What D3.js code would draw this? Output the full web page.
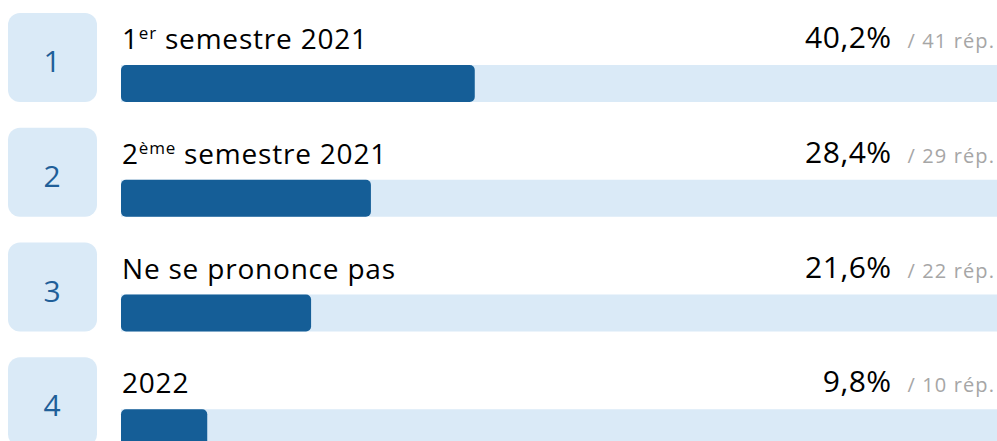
<!DOCTYPE html>
<html>
<head>
<meta charset="utf-8">
<script src="https://cdn.jsdelivr.net/npm/d3@7"></script>
<style>
  body { margin: 0; background: #fff; }
  text { font-family: "Open Sans", "Noto Sans", sans-serif; }
</style>
</head>
<body>
<script>
// data
var ranks = ["1", "2", "3", "4"];
var labels = ["1", "2", "Ne se prononce pas", "2022"];
var labelSup = ["er", "ème", "", ""];
var labelRest = [" semestre 2021", " semestre 2021", "", ""];
var percents = [40.2, 28.4, 21.6, 9.8];
var answers = [41, 29, 22, 10];

var W = 997, H = 441;
var darkBlue = "#155e97", lightBlue = "#daeaf7";

var svg = d3.select("body").append("svg")
    .attr("width", W)
    .attr("height", H);

var y = d3.scaleBand().domain(ranks).range([13, 472]);
var x = d3.scaleLinear().domain([0, 100]).range([121, 1001]);
var fmt = function(v){ return d3.format(".1f")(v).replace(".", ",") + "%"; };

var rows = svg.selectAll("g.row")
    .data(ranks)
    .enter().append("g")
    .attr("class", "row")
    .attr("transform", function(d){ return "translate(0," + y(d) + ")"; });

// numbered box
rows.append("rect")
    .attr("x", 8).attr("y", 0)
    .attr("width", 89).attr("height", 89)
    .attr("rx", 12)
    .attr("fill", lightBlue);

rows.append("text")
    .attr("x", 52).attr("y", 59)
    .attr("text-anchor", "middle")
    .attr("font-size", 30)
    .attr("fill", "#1f5f99")
    .text(function(d){ return d; });

// bar background + fill
rows.append("rect")
    .attr("x", x(0)).attr("y", 52)
    .attr("width", x(100) - x(0)).attr("height", 37)
    .attr("fill", lightBlue);

rows.append("rect")
    .attr("x", x(0)).attr("y", 52)
    .attr("width", function(d, i){ return x(percents[i]) - x(0); })
    .attr("height", 37)
    .attr("rx", 5)
    .attr("fill", darkBlue);

// label
var lbl = rows.append("text")
    .attr("x", 122).attr("y", 36)
    .attr("font-size", 28)
    .attr("letter-spacing", 0.8)
    .attr("fill", "#000");
lbl.append("tspan").text(function(d, i){ return labels[i]; });
lbl.append("tspan")
    .attr("font-size", 17)
    .attr("dy", -10)
    .text(function(d, i){ return labelSup[i]; });
lbl.append("tspan")
    .attr("dy", 10)
    .text(function(d, i){ return labelRest[i]; });

// answers count and percent, right aligned
var rep = rows.append("text")
    .attr("x", 995).attr("y", 35)
    .attr("text-anchor", "end")
    .attr("font-size", 20)
    .attr("letter-spacing", 1.1)
    .attr("fill", "#a6a6a6")
    .text(function(d, i){ return "/ " + answers[i] + " rép."; });

rows.append("text")
    .attr("x", function(d, i){
        return 995 - rep.nodes()[i].getComputedTextLength() - 16;
    })
    .attr("y", 35)
    .attr("text-anchor", "end")
    .attr("font-size", 30)
    .attr("letter-spacing", 0.5)
    .attr("fill", "#000")
    .text(function(d, i){ return fmt(percents[i]); });
</script>
</body>
</html>
